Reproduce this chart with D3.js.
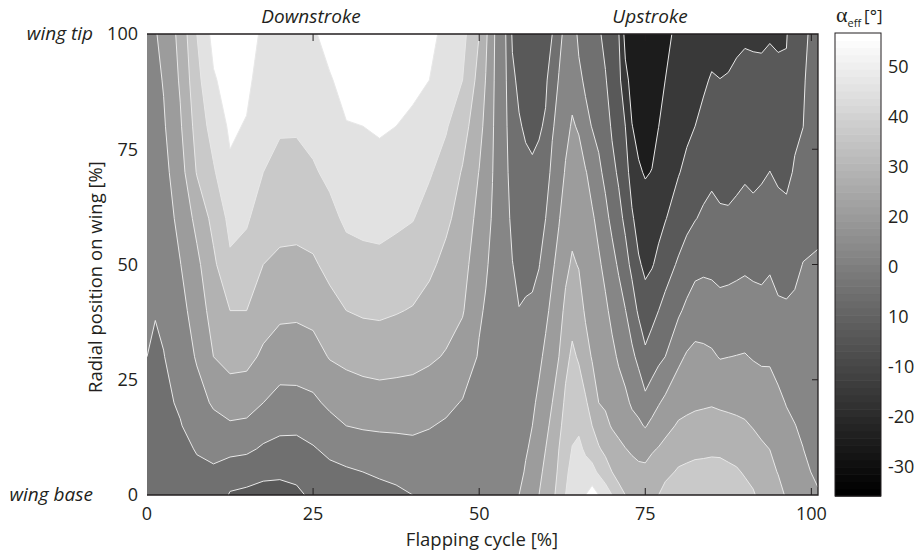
<!DOCTYPE html>
<html>
<head>
<meta charset="utf-8">
<script src="https://cdn.jsdelivr.net/npm/d3@7"></script>
<style>
  body { margin: 0; background: #fff; }
  svg text { font-family: "Open Sans", sans-serif; fill: #231f20; }
</style>
</head>
<body>
<svg id="chart" width="916" height="554"></svg>
<script>
// flapping cycle [%] of each grid column (finer where the upstroke bands are narrow)
const cycle = [0, 1.25, 2.5, 5, 7.5, 10, 12.5, 15, 17.5, 20, 22.5, 25, 27.5, 30, 32.5, 35, 37.5, 40, 42.5, 45, 47.5, 50,
  51, 52, 53, 54, 55, 56, 57, 58, 59, 60, 61, 62, 63, 64, 65, 66, 67, 68, 69, 70, 71, 72, 73, 74, 75, 76, 77, 78,
  80, 81.25, 82.5, 83.75, 85, 86.25, 87.5, 88.75, 90, 91.25, 92.5, 93.75, 95, 96.25, 97.5, 98.75, 101];
// radial position on wing [%] of each grid row
const radial = [0, 5, 10, 15, 20, 30, 40, 50, 60, 70, 80, 90, 100];
// effective angle of attack [deg], one column per cycle value, read from wing base to wing tip
const alphaEff = [
  [-6, -5, -4, -3, -2, 0, 1, 2, 3, 4, 5, 6, 7],
  [-5, -4.3, -3.7, -3, -2.4, -1.1, 0.3, 1.7, 3.2, 4.6, 6.1, 7.5, 9.5],
  [-4, -3.4, -2.75, -2.1, -1.5, -0.25, 1.5, 3.3, 5.2, 7, 8.9, 10.6, 12],
  [-3, -2.1, -1.2, -0.4, 0.9, 3.8, 6.8, 9.7, 12.7, 15.8, 18.8, 21.1, 23],
  [-2, -0.9, 0.3, 3.1, 6, 11, 14.3, 17.7, 22.7, 30.6, 33.8, 36.9, 40],
  [-2, -0.75, 1.4, 6.7, 11.3, 20, 24, 28, 32.9, 38.8, 44, 49, 53],
  [-11, -4.6, 2.5, 8.75, 14.4, 23.3, 30, 38.5, 42.5, 48.5, 51.5, 53.8, 56],
  [-12, -6.1, 1.9, 8.1, 13.7, 22.9, 30, 35.9, 41.2, 45.3, 49.3, 52.3, 55],
  [-13, -8, -1.3, 4.4, 10, 18.3, 24.4, 30, 35, 40, 42.7, 45.3, 48],
  [-13, -8.5, -2.9, 2.2, 6.8, 15, 22.1, 28.2, 33, 37.2, 41, 44, 47],
  [-12, -7.4, -2.8, 1.9, 7.1, 14.8, 21.8, 27.9, 32.8, 37.2, 40.9, 44, 47],
  [-8, -4.4, -0.7, 3.6, 8.2, 16.2, 22.9, 28.8, 34, 39, 42.6, 45.8, 49],
  [-6, -2.25, 2, 7, 11.8, 20.6, 26.9, 32.5, 37.5, 41.9, 45.6, 49.3, 53],
  [-5, -1.2, 4.1, 10, 14.2, 22.3, 30, 36.25, 41.6, 45.6, 49.6, 52.8, 56],
  [-4, 0, 5.6, 10.9, 15.2, 23.6, 31.25, 37.5, 42.3, 46.2, 50, 53, 56],
  [-3, 1.3, 6.4, 11.3, 15.9, 24.2, 31.6, 37.8, 42.8, 47.2, 51, 54.1, 57],
  [-2, 2.6, 7, 11.4, 15.7, 23.6, 30.6, 36.5, 41.7, 45.8, 50, 53, 56],
  [0, 3.8, 7.7, 11.6, 15.6, 22.8, 29.4, 35, 40.4, 44.4, 48.4, 51.9, 55],
  [2, 4.6, 7.5, 10.4, 14.2, 21.4, 26.8, 31.8, 36.4, 40.9, 45.5, 50, 52],
  [3, 5, 7, 9, 11.9, 19.3, 23.6, 27.6, 31.8, 36.4, 40.9, 44.5, 48],
  [4, 5.4, 6.7, 8.1, 9.5, 15.3, 20.8, 23.6, 26.4, 29.2, 34.1, 40, 43],
  [5, 5.7, 6.4, 7.1, 7.8, 9.2, 11.1, 14, 16.9, 19.7, 23.1, 26.6, 30],
  [4, 4.7, 5.3, 6, 6.6, 7.9, 9.2, 10.9, 13, 15.2, 17.4, 19.6, 22],
  [3, 3.5, 4, 4.6, 5.1, 6.1, 7.2, 8.2, 9.3, 10.2, 10.8, 11.4, 12],
  [5, 5, 5, 5, 5, 5, 5.5, 5.5, 5.5, 6, 6, 6, 6],
  [5, 5, 5, 4.8, 4.5, 4, 3.5, 3.2, 3, 2.2, 1.5, 0.8, 0],
  [6, 5.5, 5, 4.5, 4, 3, 2, 0.2, -2, -4.1, -6.3, -8.5, -11],
  [10, 8, 6, 5.2, 4.1, 2.1, 0.2, -2.1, -4.5, -6.9, -9.3, -11.6, -14],
  [12, 10.7, 9.3, 7.9, 6.5, 3.7, 0.9, -2.1, -5.2, -8.2, -11, -13.5, -16],
  [14, 12.7, 11.3, 10, 8.3, 4.8, 1.4, -2.1, -5.5, -9, -11.6, -13.8, -16],
  [20, 18, 16, 14, 12, 8, 3.8, -0.4, -4.2, -7.9, -10.9, -13, -15],
  [24, 22, 20, 18, 16, 12, 8, 4, 0, -4.5, -9.1, -11.3, -13],
  [28, 26, 24, 22, 20, 16.2, 12.3, 8.7, 5.6, 2.4, -1.1, -5.6, -10],
  [33, 31.5, 30, 27.5, 25, 20, 16.4, 12.9, 9.4, 6.5, 3.5, 0.6, -3],
  [40, 38, 36, 34, 31.9, 27.3, 22.1, 17.9, 14.3, 10.7, 8, 5.5, 3],
  [46, 43, 40.3, 38.1, 36, 31.7, 26.7, 21.1, 17.3, 14, 10.7, 7.8, 5],
  [48, 45, 42, 38.4, 35.2, 29, 24.2, 19.5, 16.3, 13, 9.3, 2.1, -2],
  [50, 43.75, 38.5, 34.9, 31.3, 23.8, 18.7, 16, 13.4, 10.7, 2.9, -1.6, -4],
  [55, 42.9, 35.6, 30, 26, 19.3, 16.7, 14, 11.3, 6.4, -0.4, -3.2, -6],
  [50, 38.5, 30.9, 25.3, 20, 17.1, 14.3, 11.4, 7.2, 1.7, -2.3, -5.7, -9],
  [45, 34.8, 27.6, 22, 18.9, 15.3, 11.8, 7.4, 2.3, -2, -5.7, -9.4, -12],
  [40, 30, 24.2, 19.3, 17, 12.3, 7.6, 2.9, -2.1, -7.4, -11.2, -13.6, -16],
  [33, 27.2, 21.6, 18.1, 14.3, 8.8, 3.9, -1.2, -7.1, -11.4, -14.2, -17.1, -19.5],
  [30, 25.1, 20.2, 16.2, 12.2, 5.8, 0.3, -6.6, -12, -16, -20, -27.5, -33],
  [26, 22.7, 18.9, 13.3, 8.7, 2, -5.2, -12.3, -18.7, -24.3, -29.8, -32.9, -36],
  [24, 21.6, 18.1, 11.7, 6.8, -2.4, -11.5, -18.8, -24.1, -29.1, -32.3, -35.1, -38],
  [24, 21.5, 17.7, 9.3, 2.7, -8, -15.9, -22, -26.5, -30.6, -33.4, -36.2, -39],
  [27, 23.8, 19, 12.6, 5.5, -4.8, -13.2, -20.7, -24.3, -29.8, -32.3, -34.7, -37],
  [30, 25.2, 20.5, 15, 9.3, -2.3, -10, -17.8, -22.7, -26.4, -30.1, -32, -34],
  [33, 27.8, 22.5, 17.2, 12.1, 0, -7.1, -14.1, -20.5, -23.7, -27.1, -30, -32],
  [34, 31, 26.5, 21.1, 16.6, 7.9, -1.5, -8.8, -15.2, -20.5, -23, -25.5, -28],
  [35, 31.7, 27.3, 21.9, 17.8, 11, 2.1, -5.8, -12.4, -17.9, -21.8, -24.6, -27.5],
  [36, 32.3, 28, 22.7, 18.5, 12.4, 5.1, -2.9, -10.4, -15.2, -20, -23.5, -27],
  [36.5, 32.5, 28.2, 23.3, 18.8, 12, 5, -1.9, -8.6, -13.3, -17.4, -21.5, -25.5],
  [37, 32.8, 28.5, 23.8, 19.2, 11.3, 4.2, -2.1, -7.4, -11.8, -15.4, -19.1, -24],
  [37, 32.8, 28.3, 23.3, 18.5, 9.5, 3, -3, -8.7, -12.7, -16.3, -19.9, -23],
  [36, 31.9, 27.4, 22.6, 18.1, 9.9, 3.5, -2.8, -8.9, -12.8, -16.2, -19.6, -22],
  [35, 31, 26.5, 21.9, 17.7, 10.2, 3.9, -2.1, -7.9, -12.1, -15.3, -18.6, -21.5],
  [33, 29.1, 25.1, 21, 17.4, 10.5, 4.4, -1.4, -6.6, -11.2, -14.5, -17.8, -21],
  [31, 27.1, 23.2, 19.5, 16.1, 9.4, 3.6, -2.1, -7.7, -11.9, -15.1, -18.4, -21],
  [27, 24.1, 21.2, 18.1, 14.9, 8.7, 2.9, -2.3, -6.8, -11.1, -14.9, -18.6, -21],
  [25, 22.4, 19.9, 17.1, 14.3, 8.8, 3.8, -1.1, -5.5, -9.9, -13.6, -17.3, -20.7],
  [23, 19.6, 17.1, 14.5, 12, 6.8, 1.5, -3.1, -7.3, -11.3, -14.9, -18.5, -21],
  [19, 16.6, 14.3, 11.9, 9.6, 5.4, 1.1, -3.3, -7.9, -11.9, -15.4, -18.9, -20.5],
  [16, 14.1, 12.2, 10.2, 8.5, 5.1, 1.6, -1.9, -5.5, -9.2, -11.4, -13.2, -15],
  [14, 12.1, 10.1, 8.8, 7.6, 5.2, 2.7, 0.2, -3.2, -6.8, -10.1, -11, -12],
  [11, 8, 6, 5, 4, 3, 2, 0.5, -1, -2, -3, -4, -6]
];
const levels = [-30, -20, -10, 0, 10, 20, 30, 40, 50];
const xTicks = [0, 25, 50, 75, 100];
const yTicks = [0, 25, 50, 75, 100];
const barValues = [50, 40, 30, 20, 10, 0, -10, -20, -30];
const barLabels = ["50", "40", "30", "20", "0", "10", "-10", "-20", "-30"];

// grey of each band, darkest (below -30) to white (50 and up)
const bandFill = ["#1c1c1c", "#393939", "#595959", "#707070", "#868686", "#9c9c9c",
  "#b2b2b2", "#c9c9c9", "#e2e2e2", "#ffffff"];
const ink = "#231f20";

const svg = d3.select("#chart");
const x = d3.scaleLinear().domain([0, 101]).range([147, 818]);
const y = d3.scaleLinear().domain([0, 100]).range([495, 34]);

const n = cycle.length, m = radial.length;
const grid = new Array(n * m);
for (let j = 0; j < m; j++)
  for (let i = 0; i < n; i++) grid[j * n + i] = alphaEff[i][j];
const bands = d3.contours().size([n, m]).thresholds(levels)(grid);

// contour coords put sample i at i + 0.5; map them back onto the uneven axes
function along(vals, c, len) {
  const f = Math.max(0, Math.min(len - 1, c - 0.5));
  const i0 = Math.min(Math.floor(f), len - 2);
  return vals[i0] + (vals[i0 + 1] - vals[i0]) * (f - i0);
}
const toPx = p => [x(along(cycle, p[0], n)), y(along(radial, p[1], m))];
const path = d3.geoPath(d3.geoTransform({
  point: function(px, py) { const q = toPx([px, py]); this.stream.point(q[0], q[1]); }
}));

// the iso lines, leaving out the parts that run along the plot border
function onBorder(a, b) {
  return (a[0] <= 0.5 && b[0] <= 0.5) || (a[0] >= n - 0.5 && b[0] >= n - 0.5) ||
         (a[1] <= 0.5 && b[1] <= 0.5) || (a[1] >= m - 0.5 && b[1] >= m - 0.5);
}
function isoLine(geom) {
  let d = "";
  geom.coordinates.forEach(poly => poly.forEach(ring => {
    let pen = false;
    for (let k = 1; k < ring.length; k++) {
      if (onBorder(ring[k - 1], ring[k])) { pen = false; continue; }
      if (!pen) { const a = toPx(ring[k - 1]); d += "M" + a[0].toFixed(2) + "," + a[1].toFixed(2); pen = true; }
      const b = toPx(ring[k]);
      d += "L" + b[0].toFixed(2) + "," + b[1].toFixed(2);
    }
  }));
  return d;
}

svg.append("clipPath").attr("id", "plotClip").append("rect")
  .attr("x", x(0)).attr("y", y(100)).attr("width", x(101) - x(0)).attr("height", y(0) - y(100));

const plot = svg.append("g").attr("clip-path", "url(#plotClip)");
plot.append("rect").attr("x", x(0)).attr("y", y(100))
  .attr("width", x(101) - x(0)).attr("height", y(0) - y(100)).attr("fill", bandFill[0]);
plot.selectAll("path.band").data(bands).join("path").attr("class", "band")
  .attr("d", path).attr("fill", (d, k) => bandFill[k + 1]).attr("fill-rule", "evenodd");
plot.selectAll("path.iso").data(bands).join("path").attr("class", "iso")
  .attr("d", isoLine).attr("fill", "none").attr("stroke", "#e8e8e8").attr("stroke-width", 1)
  .attr("stroke-linejoin", "round");

// frame and inward ticks (no line on the left side, as in the figure)
const frame = svg.append("g").attr("stroke", ink).attr("fill", "none");
frame.append("path").attr("stroke-width", 1.3)
  .attr("d", `M${x(0)},${y(100)}H${x(101)}V${y(0)}H${x(0)}`);
frame.selectAll("line.xb").data(xTicks.slice(1)).join("line").attr("class", "xb")
  .attr("x1", d => x(d)).attr("x2", d => x(d)).attr("y1", y(0)).attr("y2", y(0) - 7);
frame.selectAll("line.xt").data(xTicks.slice(1)).join("line").attr("class", "xt")
  .attr("x1", d => x(d)).attr("x2", d => x(d)).attr("y1", y(100)).attr("y2", y(100) + 7);
frame.selectAll("line.yr").data(yTicks.slice(1, -1)).join("line").attr("class", "yr")
  .attr("x1", x(101)).attr("x2", x(101) - 6).attr("y1", d => y(d)).attr("y2", d => y(d));

// tick labels
svg.append("g").selectAll("text").data(xTicks).join("text")
  .attr("x", d => x(d)).attr("y", 520).attr("text-anchor", "middle")
  .style("font-size", "18px").text(d => d);
svg.append("g").selectAll("text").data(yTicks).join("text")
  .attr("x", 138).attr("y", d => y(d)).attr("dy", "0.36em").attr("text-anchor", "end")
  .style("font-size", "18px").text(d => d);

// titles
svg.append("text").attr("x", 482).attr("y", 546).attr("text-anchor", "middle")
  .style("font-size", "18.5px").text("Flapping cycle [%]");
svg.append("text").attr("transform", "translate(102,277) rotate(-90)").attr("text-anchor", "middle")
  .style("font-size", "18.5px").text("Radial position on wing [%]");
svg.append("text").attr("x", 311).attr("y", 23).attr("text-anchor", "middle")
  .style("font-size", "19px").style("font-style", "italic").text("Downstroke");
svg.append("text").attr("x", 650).attr("y", 23).attr("text-anchor", "middle")
  .style("font-size", "19px").style("font-style", "italic").text("Upstroke");
svg.append("text").attr("x", 93).attr("y", y(100)).attr("dy", "0.32em").attr("text-anchor", "end")
  .style("font-size", "19px").style("font-style", "italic").text("wing tip");
svg.append("text").attr("x", 93).attr("y", y(0)).attr("dy", "0.32em").attr("text-anchor", "end")
  .style("font-size", "19px").style("font-style", "italic").text("wing base");

// colour bar: 64-step grey map
const cb = d3.scaleLinear().domain([-35.8, 56.8]).range([496, 33]);
const lo = cb.domain()[0], step = (cb.domain()[1] - lo) / 64;
const cbar = svg.append("g");
cbar.selectAll("rect").data(d3.range(64)).join("rect")
  .attr("x", 835).attr("width", 46)
  .attr("y", i => cb(lo + (i + 1) * step)).attr("height", i => cb(lo + i * step) - cb(lo + (i + 1) * step) + 0.6)
  .attr("fill", i => { const g = Math.round(255 * i / 63); return d3.rgb(g, g, g); });
cbar.append("rect").attr("x", 835).attr("y", cb(56.8)).attr("width", 46).attr("height", cb(lo) - cb(56.8))
  .attr("fill", "none").attr("stroke", ink).attr("stroke-width", 1);
cbar.selectAll("text").data(barValues).join("text")
  .attr("x", 888).attr("y", d => cb(d)).attr("dy", "0.36em")
  .style("font-size", "18px").text((d, k) => barLabels[k]);

const cbTitle = svg.append("text").attr("x", 836).attr("y", 22);
cbTitle.append("tspan").style("font-family", "'Liberation Serif', serif").style("font-size", "22px").text("α");
cbTitle.append("tspan").attr("dy", 5).style("font-size", "11px").text("eff");
cbTitle.append("tspan").attr("dy", -5).attr("dx", 3).style("font-size", "17px").text("[°]");
</script>
</body>
</html>
